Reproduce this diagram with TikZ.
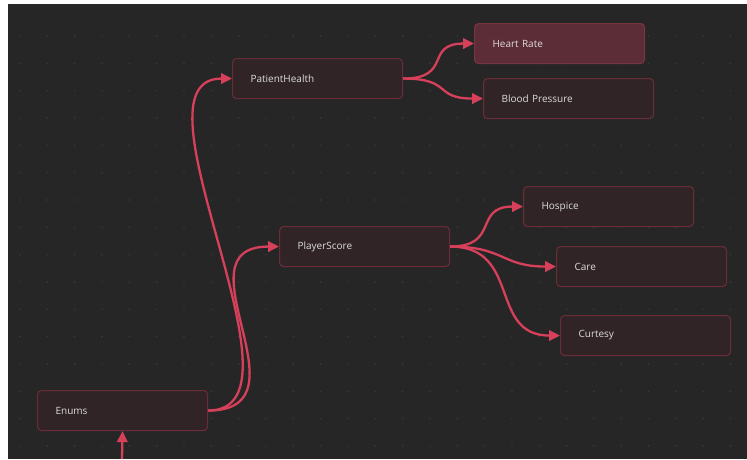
\documentclass[tikz,border=0pt]{standalone}
\usepackage{fontspec}
\setmainfont{Open Sans}
\usetikzlibrary{arrows.meta}
\definecolor{bgdark}{HTML}{262626}
\definecolor{dotc}{HTML}{383838}
\definecolor{boxfill}{HTML}{302426}
\definecolor{boxline}{HTML}{6A2C37}
\definecolor{selfill}{HTML}{5C2D36}
\definecolor{selline}{HTML}{773541}
\definecolor{edgec}{HTML}{D6405A}
\definecolor{txtc}{HTML}{DCDCDC}
\tikzset{
  enumbox/.style={draw=boxline, fill=boxfill, line width=1.1pt, rounded corners=4pt,
    anchor=north west, minimum height=40pt, text width=134pt, inner xsep=18pt, inner ysep=0pt,
    align=left, text=txtc, font=\fontsize{10pt}{12pt}\selectfont},
  selbox/.style={enumbox, draw=selline, fill=selfill},
  link/.style={draw=edgec, line width=2.3pt, -{Triangle[length=11pt,width=10.5pt]}}
}
\begin{document}
\begin{tikzpicture}[x=1pt,y=-1pt]
\useasboundingbox (0,0) rectangle (747,459);
\fill[white] (0,0) rectangle (747,459);
\fill[bgdark] (8,4) rectangle (747,459);
% dot grid
\foreach \i in {0,...,26}{
  \foreach \j in {0,...,15}{
    \fill[dotc] ({20+27.33*\i},{36+27.33*\j}) circle (0.9pt);
  }
}
% nodes
\node[enumbox] (enums) at (37,390) {Enums};
\node[enumbox] (ph) at (232,58) {PatientHealth};
\node[selbox] (hr) at (474,23) {Heart Rate};
\node[enumbox] (bp) at (483,78) {Blood Pressure};
\node[enumbox] (ps) at (279,226) {PlayerScore};
\node[enumbox] (hos) at (523,186) {Hospice};
\node[enumbox] (care) at (556,246) {Care};
\node[enumbox] (cur) at (560,315) {Curtesy};
\coordinate (src) at (122,459);
% edges
\draw[link] (enums.east) .. controls +(110,0) and +(-110,0) .. (ph.west);
\draw[link] (enums.east) .. controls +(105,0) and +(-105,0) .. (ps.west);
\draw[link] (ph.east) .. controls +(50,0) and +(-50,0) .. (hr.west);
\draw[link] (ph.east) .. controls +(50,0) and +(-50,0) .. (bp.west);
\draw[link] (ps.east) .. controls +(50,0) and +(-50,0) .. (hos.west);
\draw[link] (ps.east) .. controls +(55,0) and +(-55,0) .. (care.west);
\draw[link] (ps.east) .. controls +(72,0) and +(-72,0) .. (cur.west);
\draw[link] (src) -- (enums.south);
\end{tikzpicture}
\end{document}
